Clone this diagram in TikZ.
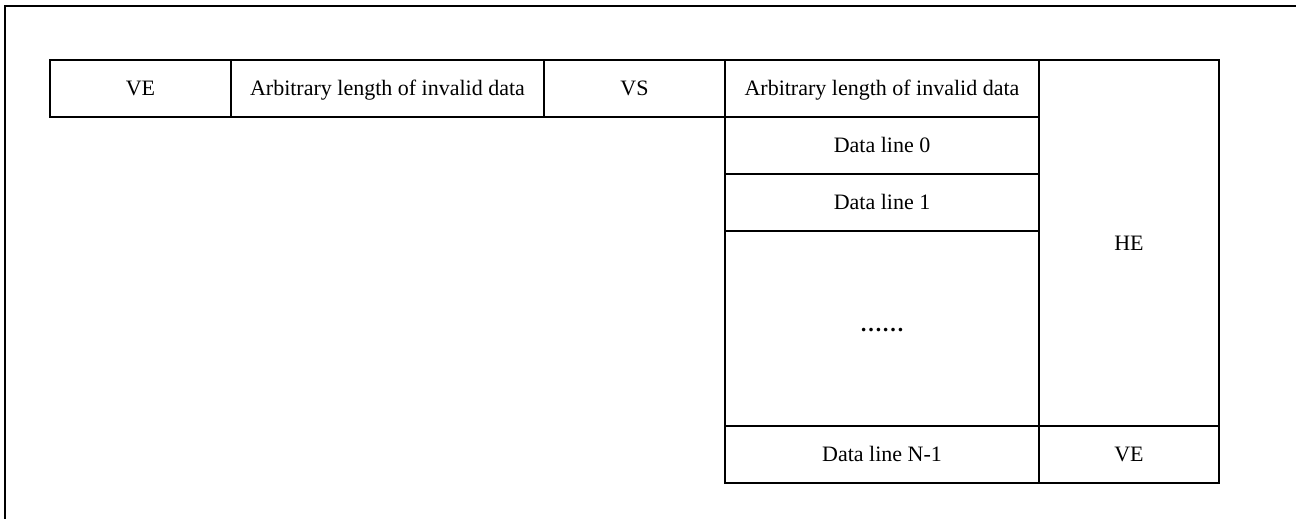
\documentclass[tikz,border=0pt]{standalone}
\usepackage{fontspec}
\setmainfont{Liberation Serif}
\usetikzlibrary{positioning}

\begin{document}
\begin{tikzpicture}[x=1pt, y=-1pt, font=\fontsize{22}{26}\selectfont]
    % Styles
    \tikzstyle{cell} = [rectangle, draw, line width=1.5pt, inner sep=0pt, outer sep=0pt, minimum height=57pt, text height=14.5pt, text depth=0pt, align=center]
    \tikzstyle{frame} = [draw, line width=1.5pt]

    \useasboundingbox (0,0) rectangle (1296,519);
    % Outer frame (runs off the page on the right and below)
    \draw [frame] (5,540) -- (5,6) -- (1320,6);

    % Top row
    \node [cell, minimum width=181pt] (veA) at (140.5,88.5) {VE};
    \node [cell, minimum width=313pt, right=0pt of veA] (invalidA) {Arbitrary length of invalid data};
    \node [cell, minimum width=181pt, right=0pt of invalidA] (vs) {VS};
    \node [cell, minimum width=314pt, right=0pt of vs] (invalidB) {Arbitrary length of invalid data};

    % Data lines
    \node [cell, minimum width=314pt, below=0pt of invalidB] (line0) {Data line 0};
    \node [cell, minimum width=314pt, below=0pt of line0] (line1) {Data line 1};
    \node [cell, minimum width=314pt, minimum height=195pt, text height=5pt, below=0pt of line1] (dots) {\bfseries ……};
    \node [cell, minimum width=314pt, below=0pt of dots] (lineN) {Data line N-1};

    % Right column
    \node [cell, minimum width=180pt, minimum height=366pt, anchor=north west] (he) at (invalidB.north east) {HE};
    \node [cell, minimum width=180pt, below=0pt of he] (veB) {VE};
\end{tikzpicture}
\end{document}
